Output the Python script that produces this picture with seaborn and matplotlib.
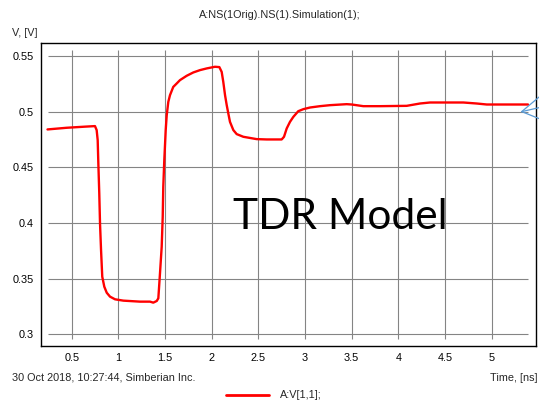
import matplotlib
matplotlib.use("Agg")
import matplotlib.pyplot as plt
from matplotlib.lines import Line2D
import seaborn as sns
import pandas as pd

# Simulated TDR voltage at port 1
time_ns = [0.24, 0.446, 0.642, 0.749, 0.767, 0.778, 0.785, 0.795, 0.803, 0.814,
           0.827, 0.849, 0.875, 0.910, 0.964, 1.053, 1.232, 1.339, 1.374, 1.411,
           1.428, 1.446, 1.464, 1.475, 1.481, 1.492, 1.507, 1.518, 1.535, 1.553,
           1.588, 1.625, 1.660, 1.732, 1.803, 1.875, 1.946, 2.035, 2.082, 2.107,
           2.124, 2.143, 2.161, 2.178, 2.196, 2.232, 2.268, 2.339, 2.482, 2.590,
           2.750, 2.775, 2.804, 2.839, 2.875, 2.928, 2.982, 3.054, 3.161, 3.268,
           3.447, 3.501, 3.625, 3.804, 4.090, 4.233, 4.340, 4.697, 4.840, 4.948,
           5.390]
voltage = [0.4840, 0.4855, 0.4865, 0.4870, 0.4834, 0.4744, 0.4535, 0.4266, 0.3996, 0.3757,
           0.3517, 0.3427, 0.3373, 0.3338, 0.3314, 0.3302, 0.3293, 0.3293, 0.3284, 0.3299,
           0.3323, 0.3550, 0.3786, 0.4056, 0.4325, 0.4565, 0.4834, 0.4968, 0.5088, 0.5148,
           0.5222, 0.5253, 0.5283, 0.5322, 0.5352, 0.5373, 0.5388, 0.5403, 0.5400, 0.5357,
           0.5268, 0.5148, 0.5058, 0.4984, 0.4908, 0.4834, 0.4798, 0.4774, 0.4753, 0.4750,
           0.4750, 0.4774, 0.4849, 0.4908, 0.4953, 0.5004, 0.5022, 0.5037, 0.5049, 0.5058,
           0.5067, 0.5064, 0.5049, 0.5049, 0.5052, 0.5073, 0.5082, 0.5082, 0.5073, 0.5064,
           0.5064]

x_ticks = [0.5, 1, 1.5, 2, 2.5, 3, 3.5, 4, 4.5, 5]
x_tick_labels = ["0.5", "1", "1.5", "2", "2.5", "3", "3.5", "4", "4.5", "5"]
y_ticks = [0.3, 0.35, 0.4, 0.45, 0.5, 0.55]
y_tick_labels = ["0.3", "0.35", "0.4", "0.45", "0.5", "0.55"]
reference_level = 0.5

title_text = "A:NS(1Orig).NS(1).Simulation(1);"
y_label = "V, [V]"
x_label = "Time, [ns]"
footer_text = "30 Oct 2018, 10:27:44, Simberian Inc."
series_name = "A:V[1,1];"
watermark = "TDR Model"

df = pd.DataFrame({"t": time_ns, "v": voltage})

sns.set_style("white")
plt.rcParams["font.family"] = ["Liberation Sans", "DejaVu Sans"]

W, H = 539, 405
fig = plt.figure(figsize=(W / 100, H / 100), dpi=100)
ax = fig.add_axes([40.8 / W, 1 - 345.5 / H, (535.5 - 40.8) / W, (345.5 - 42.5) / H])

fs = 7.8
red = "#ff0000"
grid_c = "#848484"

# grid drawn only over the data span
gx0, gx1 = min(time_ns) + 0.01, max(time_ns) + 0.005
gy0, gy1 = 0.2961, 0.5554
ax.vlines(x_ticks, gy0, gy1, colors=grid_c, linewidth=0.8, zorder=1)
ax.hlines(y_ticks, gx0, gx1, colors=grid_c, linewidth=0.8, zorder=1)

sns.lineplot(data=df, x="t", y="v", ax=ax, color=red, linewidth=1.7,
             estimator=None, sort=False, legend=False, zorder=3)

ax.set_xlim(0.1683, 5.4705)
ax.set_ylim(0.2899, 0.5621)
ax.set_xticks(x_ticks)
ax.set_xticklabels(x_tick_labels, fontsize=fs)
ax.set_yticks(y_ticks)
ax.set_yticklabels(y_tick_labels, fontsize=fs)
ax.set_xlabel("")
ax.set_ylabel("")
ax.tick_params(axis="x", direction="inout", length=5, width=0.8, color="black", pad=3)
ax.tick_params(axis="y", direction="inout", length=4, width=0.8, color="black", pad=3)
ax.tick_params(axis="both", labelcolor="black")
for s in ax.spines.values():
    s.set_visible(True)
    s.set_color("black")
    s.set_linewidth(1.0)

# reference-level marker on the right edge
tip_x = 5.3226
for dy in (0.0132, 0.0036, -0.0063):
    ax.plot([tip_x, 5.51], [reference_level, reference_level + dy],
            color="#5b9bd5", linewidth=0.9, clip_on=False, zorder=5)

fig.text(233.3 / W, 1 - 229 / H, watermark, fontsize=30.6, family=["Lato", "DejaVu Sans"],
         color="black", ha="left", va="baseline", zorder=6)

fig.text(279.8 / W, 1 - 14.9 / H, title_text, fontsize=fs, ha="center", va="center")
fig.text(11.7 / W, 1 - 32.5 / H, y_label, fontsize=fs, ha="left", va="center")
fig.text(12.1 / W, 1 - 377.7 / H, footer_text, fontsize=fs, ha="left", va="center")
fig.text(537.5 / W, 1 - 377.7 / H, x_label, fontsize=fs, ha="right", va="center")

fig.add_artist(Line2D([226 / W, 269.3 / W], [1 - 394.5 / H, 1 - 394.5 / H],
                      color=red, linewidth=2.0, transform=fig.transFigure))
fig.text(280 / W, 1 - 395 / H, series_name, fontsize=fs, ha="left", va="center")

fig.savefig("out.png", dpi=100)
